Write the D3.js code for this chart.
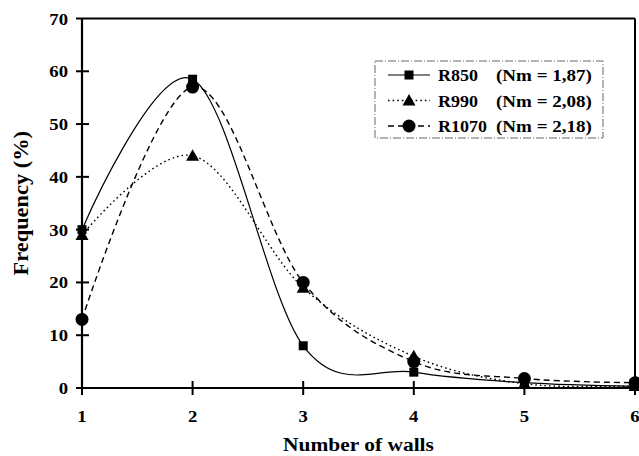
<!DOCTYPE html>
<html>
<head>
<meta charset="utf-8">
<script src="https://cdn.jsdelivr.net/npm/d3@7"></script>
<style>
  body { margin: 0; background: #fff; }
  svg { display: block; }
  text { font-family: "Liberation Serif", "Times New Roman", serif; font-weight: bold; fill: #000; }
</style>
</head>
<body>
<div id="chart"></div>
<script>
const WIDTH = 639;
const HEIGHT = 456;

// data
const walls = [1, 2, 3, 4, 5, 6];
const r850 = [30, 58.5, 8, 3, 1, 0.3];
const r990 = [29, 44, 19, 6, 0.8, 0.4];
const r1070 = [13, 57, 20, 5, 1.8, 1];
const seriesNames = ["R850", "R990", "R1070"];
const seriesNm = ["(Nm = 1,87)", "(Nm = 2,08)", "(Nm = 2,18)"];
const yTicks = [0, 10, 20, 30, 40, 50, 60, 70];

const margin = {top: 18.5, right: 4, bottom: 68, left: 82};
const width = WIDTH - margin.left - margin.right;
const height = HEIGHT - margin.top - margin.bottom;
const SX = 1.1; // text in the picture is stretched sideways

const svg = d3.select("#chart").append("svg")
    .attr("width", WIDTH)
    .attr("height", HEIGHT);

const g = svg.append("g")
    .attr("transform", "translate(" + margin.left + "," + margin.top + ")");

const x = d3.scaleLinear().domain([1, 6]).range([0, width]);
const y = d3.scaleLinear().domain([0, 70]).range([height, 0]);

function label(sel, tx, ty, txt, size, anchor, sx) {
    return sel.append("text")
        .attr("transform", "translate(" + tx + "," + ty + ") scale(" + (sx || SX) + ",1)")
        .attr("text-anchor", anchor || "middle")
        .style("font-size", size + "px")
        .text(txt);
}

// frame (top and right)
g.append("line").attr("x1", x(1)).attr("x2", x(6)).attr("y1", y(70)).attr("y2", y(70))
    .attr("stroke", "#000").attr("stroke-width", 2);
g.append("line").attr("x1", x(6)).attr("x2", x(6)).attr("y1", y(70)).attr("y2", y(0))
    .attr("stroke", "#000").attr("stroke-width", 2);

// y axis
const yAxis = g.append("g").attr("class", "y axis");
yAxis.append("line").attr("x1", 0).attr("x2", 0).attr("y1", y(70)).attr("y2", y(0))
    .attr("stroke", "#000").attr("stroke-width", 2.2);
yTicks.forEach(function(t) {
    yAxis.append("line").attr("x1", -6).attr("x2", t === 70 ? 0 : 7).attr("y1", y(t)).attr("y2", y(t))
        .attr("stroke", "#000").attr("stroke-width", 2);
    label(yAxis, -14, y(t) + 6, t, 17, "end");
});

// x axis
const xAxis = g.append("g").attr("class", "x axis");
xAxis.append("line").attr("x1", x(1)).attr("x2", x(6)).attr("y1", y(0)).attr("y2", y(0))
    .attr("stroke", "#000").attr("stroke-width", 2.2);
walls.forEach(function(t) {
    xAxis.append("line").attr("x1", x(t)).attr("x2", x(t)).attr("y1", y(0) - 7).attr("y2", y(0) + 7)
        .attr("stroke", "#000").attr("stroke-width", 2);
    label(xAxis, x(t), y(0) + 34, t, 17, "middle");
});

// axis titles, centred on the plot area
label(svg, margin.left + width / 2, 451, "Number of walls", 19.5, "middle", 1.1);
svg.append("text")
    .attr("transform", "translate(28," + (margin.top + height / 2) + ") rotate(-90) scale(1.12,1)")
    .attr("text-anchor", "middle")
    .style("font-size", "20px")
    .text("Frequency (%)");

// series
const series = [
    {values: r850, dash: null, marker: "square"},
    {values: r990, dash: "1.6,3", marker: "triangle"},
    {values: r1070, dash: "6,4", marker: "circle"}
];

const line = d3.line()
    .x(function(d) { return x(d[0]); })
    .y(function(d) { return y(d[1]); })
    .curve(d3.curveCardinal.tension(0));

series.forEach(function(s) {
    g.append("path")
        .datum(walls.map(function(w, i) { return [w, s.values[i]]; }))
        .attr("d", line)
        .attr("fill", "none")
        .attr("stroke", "#000")
        .attr("stroke-width", s.dash ? 1.4 : 1.2)
        .attr("stroke-dasharray", s.dash);
});

function marker(sel, type, cx, cy) {
    if (type === "square") {
        sel.append("rect").attr("x", cx - 4.5).attr("y", cy - 4.5).attr("width", 9).attr("height", 9).attr("fill", "#000");
    } else if (type === "triangle") {
        sel.append("path").attr("d", "M" + cx + "," + (cy - 6.5) + "L" + (cx + 6.5) + "," + (cy + 5) + "L" + (cx - 6.5) + "," + (cy + 5) + "Z").attr("fill", "#000");
    } else {
        sel.append("circle").attr("cx", cx).attr("cy", cy).attr("r", 6.5).attr("fill", "#000");
    }
}

series.forEach(function(s) {
    const mg = g.append("g");
    walls.forEach(function(w, i) { marker(mg, s.marker, x(w), y(s.values[i])); });
});

// legend
const legend = svg.append("g").attr("transform", "translate(375,61)");
legend.append("rect").attr("x", 0).attr("y", 0).attr("width", 228).attr("height", 77)
    .attr("fill", "#fff").attr("stroke", "#666").attr("stroke-width", 1)
    .attr("stroke-dasharray", "8,2,1,2");
series.forEach(function(s, i) {
    const cy = 14 + i * 25.5;
    legend.append("line").attr("x1", 13).attr("x2", 55).attr("y1", cy).attr("y2", cy)
        .attr("stroke", "#000").attr("stroke-width", s.dash ? 1.4 : 1.2).attr("stroke-dasharray", s.dash);
    marker(legend, s.marker, 34, cy);
    label(legend, 63, cy + 6, seriesNames[i], 17, "start", 1.06);
    label(legend, 121, cy + 6, seriesNm[i], 17, "start", 1.12);
});
</script>
</body>
</html>
